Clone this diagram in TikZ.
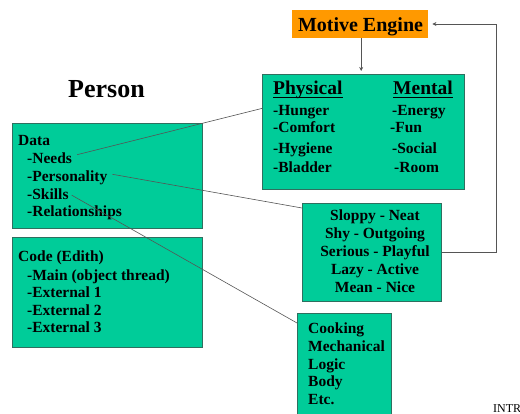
\documentclass[tikz,border=0pt]{standalone}
\usepackage{fontspec}
\setmainfont{Liberation Serif}
\usetikzlibrary{arrows.meta}

\definecolor{boxgreen}{HTML}{00CC99}
\definecolor{boxedge}{HTML}{2F6F5F}
\definecolor{engine}{HTML}{FF9900}
\definecolor{wire}{HTML}{555555}

\tikzset{
  panel/.style={draw=boxedge, line width=0.8pt, fill=boxgreen, inner sep=0pt, anchor=north west},
  enginebox/.style={fill=engine, inner sep=0pt, anchor=north west},
  item/.style={font=\fontsize{15.5}{18}\selectfont\bfseries, inner sep=0pt, anchor=base west},
  citem/.style={item, anchor=base},
  head/.style={font=\fontsize{19.5}{22}\selectfont\bfseries, inner sep=0pt, anchor=base west},
  rulestroke/.style={draw=black, line width=0.9pt},
  wireline/.style={draw=wire, line width=0.6pt},
  tip/.style={-{Stealth[length=4pt,width=4pt]}}
}

\begin{document}
\begin{tikzpicture}[x=1pt,y=-1pt]
\useasboundingbox (0,0) rectangle (520,414);
\clip (0,0) rectangle (520,414);

% boxes
\node[enginebox, minimum width=136pt, minimum height=28pt] (motive) at (292,10) {};
\node[panel, minimum width=202pt, minimum height=115pt] (phys) at (262,74) {};
\node[panel, minimum width=190pt, minimum height=105pt] (data) at (12,123) {};
\node[panel, minimum width=190pt, minimum height=110pt] (code) at (12,237) {};
\node[panel, minimum width=139pt, minimum height=98pt] (slp) at (302,203) {};
\node[panel, minimum width=94pt, minimum height=102pt] (cook) at (297,313) {};

% titles
\node[font=\fontsize{26}{30}\selectfont\bfseries, inner sep=0pt, anchor=base] (person) at (106.5,98) {Person};
\node[font=\fontsize{20}{24}\selectfont\bfseries, inner sep=0pt, anchor=base] (motivetxt) at (360.5,32) {Motive Engine};

% needs panel, headings with rules just under the baseline
\node[head] (hphys) at (273,95) {Physical};
\node[head] (hment) at (393,95) {Mental};
\draw[rulestroke] ([yshift=-2pt]hphys.base west) -- ([yshift=-2pt]hphys.base east);
\draw[rulestroke] ([yshift=-2pt]hment.base west) -- ([yshift=-2pt]hment.base east);
\node[item] (hunger) at (273,116) {-Hunger};
\node[item] (comfort) at (273,133) {-Comfort};
\node[item] (hygiene) at (273,154) {-Hygiene};
\node[item] (bladder) at (273,173) {-Bladder};
\node[item] (energy) at (392,116) {-Energy};
\node[item] (fun) at (390,133) {-Fun};
\node[item] (social) at (392,154) {-Social};
\node[item] (room) at (394,173) {-Room};

% data panel
\node[item] (datalbl) at (18,146) {Data};
\node[item] (needs) at (27,164) {-Needs};
\node[item] (pers) at (27,182) {-Personality};
\node[item] (skills) at (27,199.5) {-Skills};
\node[item] (rel) at (27,217) {-Relationships};

% code panel
\node[item] (codelbl) at (18,262) {Code (Edith)};
\node[item] (mainthr) at (27,280.5) {-Main (object thread)};
\node[item] (ext1) at (27,298) {-External 1};
\node[item] (ext2) at (27,315.5) {-External 2};
\node[item] (ext3) at (27,333) {-External 3};

% personality traits
\node[citem] (t1) at (375,221) {Sloppy - Neat};
\node[citem] (t2) at (375,238.5) {Shy - Outgoing};
\node[citem] (t3) at (375,256.5) {Serious - Playful};
\node[citem] (t4) at (375,275) {Lazy - Active};
\node[citem] (t5) at (375,293) {Mean - Nice};

% skills
\node[item] (s1) at (308,334) {Cooking};
\node[item] (s2) at (308,352) {Mechanical};
\node[item] (s3) at (308,369.5) {Logic};
\node[item] (s4) at (308,387) {Body};
\node[item] (s5) at (308,404.5) {Etc.};

% footer, running off the right edge
\node[font=\fontsize{12}{14}\selectfont, inner sep=0pt, anchor=base west] (footer) at (493,413) {INTRO};

% connectors
\coordinate (fb) at (496,24);
\draw[wireline, tip] (motive.south) ++(1,0) coordinate (mdown) -- ([yshift=3pt]mdown |- phys.north);
\draw[wireline, tip] (slp.east) -| (fb) -- ([xshift=4pt]motive.east |- fb);
\draw[wireline] ([xshift=5pt,yshift=4pt]needs.east) -- ([yshift=23.5pt]phys.west);
\draw[wireline] ([xshift=5pt,yshift=4pt]pers.east) -- ([yshift=-5pt]slp.north west);
\draw[wireline] ([xshift=3pt,yshift=-1pt]skills.east) -- ([yshift=-10pt]cook.north west);
\end{tikzpicture}
\end{document}
